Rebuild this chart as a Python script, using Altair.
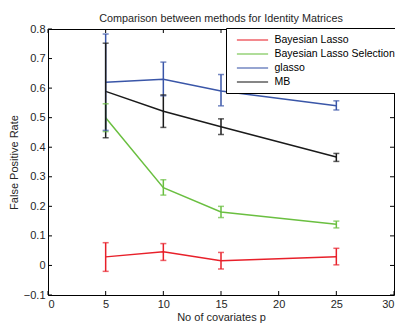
import altair as alt
import pandas as pd

p = [5, 10, 15, 25]
methods = ["Bayesian Lasso", "Bayesian Lasso Selection", "glasso", "MB"]
colors = ["#e8202a", "#6abf40", "#3a56a8", "#1a1a1a"]

bl_mean = [0.029, 0.046, 0.016, 0.029]
bl_lo = [-0.020, 0.017, -0.012, 0.002]
bl_hi = [0.077, 0.074, 0.044, 0.058]

bls_mean = [0.500, 0.263, 0.181, 0.139]
bls_lo = [0.453, 0.238, 0.162, 0.127]
bls_hi = [0.547, 0.290, 0.200, 0.150]

gl_mean = [0.620, 0.630, 0.590, 0.540]
gl_lo = [0.457, 0.574, 0.540, 0.526]
gl_hi = [0.783, 0.688, 0.646, 0.557]

mb_mean = [0.589, 0.522, 0.469, 0.367]
mb_lo = [0.432, 0.467, 0.443, 0.352]
mb_hi = [0.752, 0.577, 0.496, 0.379]

x_ticks = [0, 5, 10, 15, 20, 25, 30]
y_ticks = [-0.1, 0.0, 0.1, 0.2, 0.3, 0.4, 0.5, 0.6, 0.7, 0.8]

series = [
    (methods[0], bl_mean, bl_lo, bl_hi),
    (methods[1], bls_mean, bls_lo, bls_hi),
    (methods[2], gl_mean, gl_lo, gl_hi),
    (methods[3], mb_mean, mb_lo, mb_hi),
]
rows = []
for k, (name, m, lo, hi) in enumerate(series):
    for i in range(len(p)):
        rows.append({"method": name, "k": k, "p": p[i], "mean": m[i], "lo": lo[i], "hi": hi[i]})
df = pd.DataFrame(rows)

W, H = 346, 266
TICK = 4
FONT = "Liberation Sans"
TXT = "#262626"

xscale = alt.Scale(domain=[0, 30], nice=False, zero=False)
yscale = alt.Scale(domain=[-0.1, 0.8], nice=False, zero=False)
cscale = alt.Scale(domain=methods, range=colors)

xaxis = alt.Axis(values=x_ticks, title="No of covariates p", ticks=False, domain=False,
                 grid=False, labelPadding=3, titlePadding=2, format="d",
                 labelOverlap=False, titleFontWeight="normal")
yaxis = alt.Axis(values=y_ticks, title="False Positive Rate", ticks=False, domain=False,
                 grid=False, labelPadding=3, titlePadding=4, labelOverlap=False,
                 titleFontWeight="normal",
                 labelExpr="abs(datum.value) < 1e-9 ? '0' : format(datum.value, '.1f')")


def xq(field):
    return alt.X(field, scale=xscale, axis=xaxis, title="No of covariates p")


def yq(field):
    return alt.Y(field, scale=yscale, axis=yaxis, title="False Positive Rate")


C = alt.Color("method:N", scale=cscale,
              legend=alt.Legend(title=None, orient="none", legendX=178, legendY=-1,
                                strokeColor="black", fillColor="white", padding=5,
                                symbolType="M-2.6,0H2.6", symbolSize=144, symbolStrokeWidth=1.5,
                                symbolOffset=14.5, labelOffset=15,
                                labelFontSize=10.5, labelFont=FONT, labelColor="black",
                                rowPadding=1))

base = alt.Chart(df)
lines = base.mark_line(strokeWidth=1.5).encode(
    x=xq("p:Q"), y=yq("mean:Q"), color=C, detail="method:N", order="p:Q")
rules = base.mark_rule(strokeWidth=1.5).encode(x=xq("p:Q"), y=yq("lo:Q"), y2="hi:Q", color=C)
cap_lo = base.mark_tick(orient="horizontal", size=6, thickness=1.5).encode(
    x=xq("p:Q"), y=yq("lo:Q"), color=C)
cap_hi = base.mark_tick(orient="horizontal", size=6, thickness=1.5).encode(
    x=xq("p:Q"), y=yq("hi:Q"), color=C)

xt = pd.DataFrame({"v": x_ticks})
yt = pd.DataFrame({"v": y_ticks})
tb = alt.Chart(xt).mark_rule(color="black", strokeWidth=1).encode(
    x=xq("v:Q"), y=alt.value(H), y2=alt.value(H - TICK))
tt = alt.Chart(xt).mark_rule(color="black", strokeWidth=1).encode(
    x=xq("v:Q"), y=alt.value(0), y2=alt.value(TICK))
tl = alt.Chart(yt).mark_rule(color="black", strokeWidth=1).encode(
    y=yq("v:Q"), x=alt.value(0), x2=alt.value(TICK))
tr = alt.Chart(yt).mark_rule(color="black", strokeWidth=1).encode(
    y=yq("v:Q"), x=alt.value(W), x2=alt.value(W - TICK))

chart = alt.layer(lines, tb, tt, tl, tr, rules, cap_lo, cap_hi).properties(
    width=W, height=H,
    title=alt.TitleParams("Comparison between methods for Identity Matrices", fontSize=10.8,
                          fontWeight="normal", font=FONT, color=TXT, offset=0, dy=1,
                          anchor="middle"),
    autosize=alt.AutoSizeParams(type="none"),
    padding={"left": 40, "top": 21, "right": 1, "bottom": 30},
).configure(background="white").configure_view(stroke="black", strokeWidth=1).configure_axis(
    labelFont=FONT, titleFont=FONT, labelFontSize=11, titleFontSize=11,
    labelColor=TXT, titleColor=TXT, titleFontWeight="normal"
)

chart.save("out.html", embed_options={"renderer": "svg", "actions": False})
